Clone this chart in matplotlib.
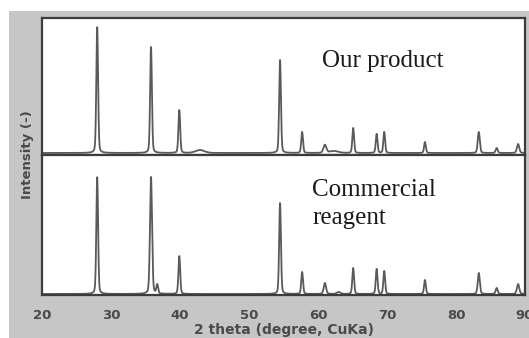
"""XRD patterns: our product vs commercial reagent (two stacked panels)."""

import matplotlib.pyplot as plt
import numpy as np
from matplotlib.patches import Rectangle

# peak positions (2 theta, deg), heights (arb. units) and widths (FWHM, deg)
top_pos = [28.0, 35.8, 39.9, 42.9, 54.5, 57.7, 61.0, 62.3, 65.1, 68.5, 69.6, 75.5, 83.3, 85.9, 89.0]
top_height = [126, 106, 43, 3, 93, 21, 8, 2, 25, 19, 21, 11, 21, 5, 9]
top_width = [0.3, 0.3, 0.3, 1.5, 0.3, 0.3, 0.5, 1.5, 0.3, 0.3, 0.3, 0.3, 0.35, 0.35, 0.4]

bot_pos = [28.0, 35.8, 36.7, 39.9, 54.5, 57.7, 61.0, 63.0, 65.1, 68.5, 69.6, 75.5, 83.3, 85.9, 89.0]
bot_height = [117, 117, 9, 38, 91, 22, 11, 2, 26, 25, 23, 14, 21, 6, 10]
bot_width = [0.3, 0.35, 0.3, 0.3, 0.3, 0.3, 0.4, 0.6, 0.3, 0.3, 0.3, 0.3, 0.35, 0.35, 0.4]

X_TICKS = [20, 30, 40, 50, 60, 70, 80, 90]

LINE = "#5a5a5a"
FRAME = "#3c3c3c"
BG = "#c6c6c6"
TEXT = "#4a4a4a"


def pattern(x, pos, height, width):
    y = np.zeros_like(x)
    for p, h, w in zip(pos, height, width):
        y += h / (1 + ((x - p) / (w / 2)) ** 2) * 0.25 + h * 0.75 * np.exp(
            -4 * np.log(2) * ((x - p) / w) ** 2
        )
    return y


def main() -> None:
    W, H = 529, 338
    fig = plt.figure(figsize=(W / 100, H / 100), dpi=100)
    fig.patch.set_facecolor("white")
    fig.patches.append(
        Rectangle((9 / W, 0), 1 - 9 / W, 1 - 11 / H, transform=fig.transFigure,
                  facecolor=BG, edgecolor="none", zorder=-10)
    )

    left, right = 42 / W, 525 / W
    ax_top = fig.add_axes([left, 1 - 155 / H, right - left, 137 / H])
    ax_bot = fig.add_axes([left, 1 - 295 / H, right - left, 140 / H])

    x = np.linspace(20, 90, 3000)
    ax_top.plot(x, pattern(x, top_pos, top_height, top_width), color=LINE, lw=1.3)
    ax_bot.plot(x, pattern(x, bot_pos, bot_height, bot_width), color=LINE, lw=1.3)

    ax_top.set_ylim(-2, 135)
    ax_bot.set_ylim(-1, 139)
    for ax in (ax_top, ax_bot):
        ax.set_xlim(20, 90)
        ax.set_facecolor("white")
        ax.set_yticks([])
        for s in ax.spines.values():
            s.set_color(FRAME)
            s.set_linewidth(1.6)
        ax.tick_params(length=0)

    ax_top.set_xticks([])
    ax_bot.set_xticks(X_TICKS)
    ax_bot.set_xticklabels([str(t) for t in X_TICKS], fontsize=9.5, color=TEXT,
                           fontweight="bold")
    ax_bot.tick_params(axis="x", pad=10)
    ax_bot.set_xlabel("2 theta (degree, CuKa)", fontsize=10, color=TEXT,
                      fontweight="bold", labelpad=1)

    fig.text(27 / W, 1 - 155 / H, "Intensity (-)", rotation=90, ha="center",
             va="center", fontsize=9.5, color=TEXT, fontweight="bold")

    fig.text(322 / W, 1 - 67 / H, "Our product", ha="left", va="baseline",
             family="Liberation Serif", fontsize=18, color="#1a1a1a")
    fig.text(312 / W, 1 - 196 / H, "Commercial", ha="left", va="baseline",
             family="Liberation Serif", fontsize=18, color="#1a1a1a")
    fig.text(312 / W, 1 - 224 / H, "reagent", ha="left", va="baseline",
             family="Liberation Serif", fontsize=18, color="#1a1a1a")

    fig.savefig("out.png", dpi=100)


if __name__ == "__main__":
    main()
